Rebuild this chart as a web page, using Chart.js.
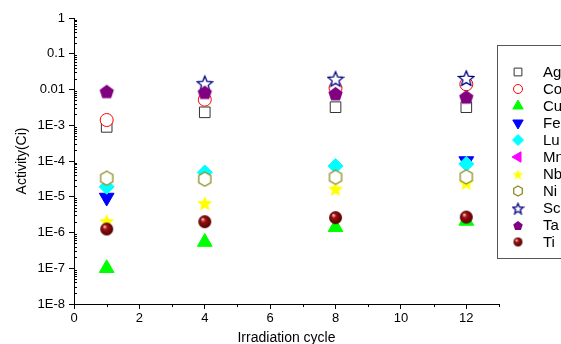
<!DOCTYPE html>
<html>
<head>
<meta charset="utf-8">
<script src="https://cdn.jsdelivr.net/npm/chart.js@4/dist/chart.umd.min.js"></script>
<style>
  html, body { margin: 0; padding: 0; background: #fff; overflow: hidden; }
  #wrap { width: 561px; height: 344px; position: relative; }
</style>
</head>
<body>
<div id="wrap"><canvas id="c"></canvas></div>
<script>
// irradiation cycles where activity was computed
const cycles = [1, 4, 8, 12];
const names = ['Ag', 'Co', 'Cu', 'Fe', 'Lu', 'Mn', 'Nb', 'Ni', 'Sc', 'Ta', 'Ti'];

// activity (Ci) per nuclide
const ag = [9.0e-4, 2.3e-3, 3.2e-3, 3.2e-3];
const co = [1.4e-3, 5.2e-3, 1.1e-2, 1.4e-2];
const cu = [1.0e-7, 5.4e-7, 1.4e-6, 2.1e-6];
const fe = [9.5e-6, null, null, 1.0e-4];
const lu = [1.9e-5, 4.8e-5, 7.2e-5, 8.3e-5];
const mn = [null, null, null, null];
const nb = [2.1e-6, 6.7e-6, 1.7e-5, 2.5e-5];
const ni = [3.3e-5, 3.1e-5, 3.5e-5, 3.6e-5];
const sc = [null, 1.5e-2, 2.0e-2, 2.1e-2];
const ta = [9.0e-3, 8.5e-3, 7.8e-3, 6.3e-3];
const ti = [1.25e-6, 2.0e-6, 2.6e-6, 2.7e-6];

const yTicks = [1, 0.1, 0.01, 1e-3, 1e-4, 1e-5, 1e-6, 1e-7, 1e-8];
const yTickLabels = ['1', '0.1', '0.01', '1E-3', '1E-4', '1E-5', '1E-6', '1E-7', '1E-8'];
const xTicks = [0, 2, 4, 6, 8, 10, 12];

const FONT = '"Liberation Sans", Arial, sans-serif';

// small canvases for marker shapes Chart.js doesn't have
function marker(kind, s, fill, stroke) {
  const c = document.createElement('canvas');
  c.width = c.height = s;
  const g = c.getContext('2d');
  const m = s / 2, r = s / 2 - 1;
  g.beginPath();
  if (kind === 'star') {
    for (let i = 0; i < 10; i++) {
      const a = -Math.PI / 2 + i * Math.PI / 5;
      const rr = i % 2 ? r * 0.45 : r;
      g.lineTo(m + rr * Math.cos(a), m + 1 + rr * Math.sin(a));
    }
  } else if (kind === 'pent') {
    for (let i = 0; i < 5; i++) {
      const a = -Math.PI / 2 + i * 2 * Math.PI / 5;
      g.lineTo(m + r * Math.cos(a), m + 1 + r * Math.sin(a));
    }
  } else if (kind === 'hex') {
    for (let i = 0; i < 6; i++) {
      const a = -Math.PI / 2 + i * Math.PI / 3;
      g.lineTo(m + r * Math.cos(a), m + r * Math.sin(a));
    }
  } else if (kind === 'ball') {
    g.arc(m, m, r, 0, Math.PI * 2);
    const gr = g.createRadialGradient(m - r * 0.35, m - r * 0.4, 0.5, m, m, r);
    gr.addColorStop(0, '#f4c0c0');
    gr.addColorStop(0.3, '#a01010');
    gr.addColorStop(1, '#500000');
    fill = gr;
  }
  g.closePath();
  if (fill) { g.fillStyle = fill; g.fill(); }
  if (stroke) { g.strokeStyle = stroke; g.lineWidth = 1.3; g.stroke(); }
  return c;
}

const styles = {
  Ag: { pointStyle: 'rect', radius: 7.5, legendR: 5.5, bg: '#fff', border: '#333' },
  Co: { pointStyle: 'circle', radius: 6.5, legendR: 4.5, bg: '#fff', border: '#ff0000' },
  Cu: { pointStyle: 'triangle', radius: 8.5, legendR: 6, bg: '#00ff00', border: '#00ff00' },
  Fe: { pointStyle: 'triangle', rotation: 180, radius: 8.5, legendR: 6, bg: '#0000ff', border: '#0000ff' },
  Lu: { pointStyle: 'rectRot', radius: 7.5, legendR: 5.5, bg: '#00ffff', border: '#00ffff' },
  Mn: { pointStyle: 'triangle', rotation: -90, radius: 8.5, legendR: 6, bg: '#ff00ff', border: '#ff00ff' },
  Nb: { pointStyle: marker('star', 18, '#ffff00', null), small: marker('star', 13, '#ffff00', null) },
  Ni: { pointStyle: marker('hex', 16, '#fff', '#8f8f2a'), small: marker('hex', 12, '#fff', '#8f8f2a') },
  Sc: { pointStyle: marker('star', 18, '#fff', '#000080'), small: marker('star', 13, '#fff', '#000080') },
  Ta: { pointStyle: marker('pent', 17, '#800080', null), small: marker('pent', 12, '#800080', null) },
  Ti: { pointStyle: marker('ball', 15, null, null), small: marker('ball', 11, null, null) }
};

const series = [ag, co, cu, fe, lu, mn, nb, ni, sc, ta, ti];

const datasets = names.map((n, i) => {
  const st = styles[n];
  return {
    label: n,
    data: cycles.map((c, k) => ({ x: c, y: series[i][k] })),
    showLine: false,
    pointStyle: st.pointStyle,
    pointRotation: st.rotation || 0,
    pointRadius: st.radius || 7,
    pointBackgroundColor: st.bg || '#000',
    pointBorderColor: st.border || '#000',
    pointBorderWidth: 1,
    order: names.length - i
  };
});

// minor ticks and the boxed legend
const extras = {
  id: 'extras',
  afterDraw(chart) {
    const ctx = chart.ctx;
    const x = chart.scales.x, y = chart.scales.y;
    const area = chart.chartArea;
    ctx.save();
    ctx.strokeStyle = '#000';
    ctx.lineWidth = 1;
    ctx.beginPath();
    for (let e = -8; e < 0; e++) {
      for (let m = 2; m <= 9; m++) {
        const py = Math.round(y.getPixelForValue(m * Math.pow(10, e))) + 0.5;
        ctx.moveTo(area.left, py);
        ctx.lineTo(area.left + 3, py);
      }
    }
    for (let v = 1; v <= 13; v += 2) {
      const px = Math.round(x.getPixelForValue(v)) + 0.5;
      ctx.moveTo(px, area.bottom);
      ctx.lineTo(px, area.bottom + 3);
    }
    ctx.stroke();

    ctx.strokeStyle = '#555';
    ctx.strokeRect(497.5, 45.5, 100, 213);
    ctx.font = '15px ' + FONT;
    ctx.textBaseline = 'middle';
    names.forEach((n, i) => {
      const st = styles[n];
      const ly = 72 + i * 17;
      if (st.small) {
        ctx.drawImage(st.small, 518 - st.small.width / 2, ly - st.small.height / 2);
      } else {
        ctx.fillStyle = st.bg;
        ctx.strokeStyle = st.border;
        Chart.helpers.drawPoint(ctx, { pointStyle: st.pointStyle, rotation: st.rotation || 0, radius: st.legendR, borderWidth: 1 }, 518, ly);
      }
      ctx.fillStyle = '#000';
      ctx.fillText(n, 543, ly + 1);
    });
    ctx.restore();
  }
};

new Chart(document.getElementById('c'), {
  type: 'scatter',
  data: { datasets },
  options: {
    responsive: true,
    maintainAspectRatio: false,
    animation: false,
    events: [],
    layout: { padding: { top: 18, right: 62, bottom: 0, left: 0 } },
    plugins: { legend: { display: false }, tooltip: { enabled: false } },
    scales: {
      x: {
        type: 'linear',
        min: 0,
        max: 13,
        afterBuildTicks: s => { s.ticks = xTicks.map(v => ({ value: v })); },
        afterFit: s => { s.height = 40; },
        ticks: { color: '#000', font: { family: FONT, size: 13 }, padding: 2, maxRotation: 0, autoSkip: false },
        grid: { drawOnChartArea: false, drawTicks: true, tickLength: 5, tickColor: '#000' },
        border: { display: true, color: '#000', width: 1 },
        title: { display: true, text: 'Irradiation cycle', color: '#000', font: { family: FONT, size: 14 }, padding: { top: 0, bottom: -3 } }
      },
      y: {
        type: 'logarithmic',
        min: 1e-8,
        max: 1,
        afterBuildTicks: s => { s.ticks = yTicks.map(v => ({ value: v })); },
        afterFit: s => { s.width = 74; },
        ticks: {
          color: '#000',
          font: { family: FONT, size: 13 },
          padding: 4,
          autoSkip: false,
          callback: (v) => {
            const i = yTicks.findIndex(t => Math.abs(Math.log10(t) - Math.log10(v)) < 1e-6);
            return i >= 0 ? yTickLabels[i] : '';
          }
        },
        grid: { drawOnChartArea: false, drawTicks: true, tickLength: 5, tickColor: '#000' },
        border: { display: true, color: '#000', width: 1 },
        title: { display: true, text: 'Activity(Ci)', color: '#000', font: { family: FONT, size: 14 }, padding: { top: 14, bottom: 0 } }
      }
    }
  },
  plugins: [extras]
});
</script>
</body>
</html>
